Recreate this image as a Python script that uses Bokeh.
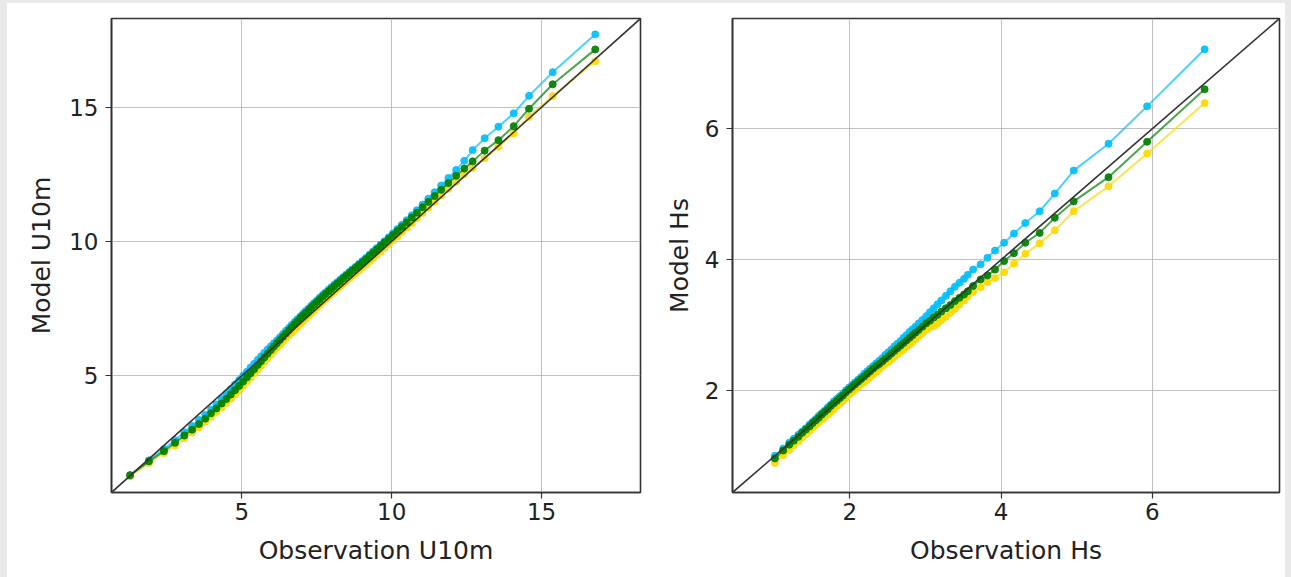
from bokeh.plotting import figure
from bokeh.layouts import row
from bokeh.models import Slope, Range1d, FixedTicker
from bokeh.embed import file_html
from bokeh.resources import INLINE

# ---- Left panel: U10m quantiles ----
u10_obs = [1.27, 1.90, 2.40, 2.77, 3.08, 3.34, 3.57, 3.78, 3.97, 4.15, 4.32, 4.48, 4.63, 4.77, 4.91,
           5.04, 5.17, 5.29, 5.41, 5.53, 5.64, 5.75, 5.86, 5.97, 6.07, 6.17, 6.27, 6.37, 6.47, 6.57,
           6.66, 6.76, 6.85, 6.95, 7.04, 7.13, 7.23, 7.32, 7.41, 7.51, 7.60, 7.70, 7.79, 7.89, 7.98,
           8.08, 8.18, 8.28, 8.38, 8.48, 8.59, 8.69, 8.80, 8.91, 9.02, 9.14, 9.26, 9.38, 9.50, 9.63,
           9.76, 9.90, 10.04, 10.19, 10.34, 10.50, 10.67, 10.84, 11.03, 11.22, 11.43, 11.65, 11.89,
           12.15, 12.42, 12.70, 13.10, 13.56, 14.07, 14.58, 15.37, 16.79]
u10_green = [1.29, 1.81, 2.19, 2.50, 2.77, 2.99, 3.20, 3.40, 3.60, 3.78, 3.96, 4.13, 4.30, 4.46, 4.62,
             4.78, 4.94, 5.09, 5.24, 5.40, 5.54, 5.68, 5.82, 5.96, 6.09, 6.21, 6.33, 6.45, 6.57, 6.69,
             6.80, 6.92, 7.02, 7.14, 7.24, 7.34, 7.45, 7.55, 7.65, 7.75, 7.85, 7.95, 8.04, 8.14, 8.23,
             8.33, 8.43, 8.52, 8.62, 8.72, 8.82, 8.92, 9.02, 9.12, 9.22, 9.34, 9.46, 9.58, 9.70, 9.83,
             9.96, 10.10, 10.24, 10.39, 10.55, 10.71, 10.89, 11.07, 11.27, 11.47, 11.69, 11.92, 12.17,
             12.44, 12.71, 12.98, 13.38, 13.77, 14.29, 14.94, 15.85, 17.15]
u10_cyan = [1.30, 1.85, 2.27, 2.60, 2.89, 3.13, 3.35, 3.54, 3.74, 3.93, 4.13, 4.32, 4.50, 4.67, 4.84,
            5.00, 5.15, 5.30, 5.44, 5.59, 5.72, 5.85, 5.98, 6.10, 6.21, 6.32, 6.43, 6.55, 6.67, 6.78,
            6.89, 7.00, 7.10, 7.21, 7.31, 7.41, 7.51, 7.61, 7.71, 7.81, 7.91, 8.01, 8.10, 8.20, 8.29,
            8.39, 8.48, 8.58, 8.67, 8.77, 8.87, 8.96, 9.06, 9.17, 9.27, 9.39, 9.51, 9.63, 9.75, 9.88,
            10.01, 10.15, 10.30, 10.46, 10.62, 10.79, 10.97, 11.16, 11.37, 11.59, 11.83, 12.08, 12.36,
            12.66, 13.00, 13.40, 13.84, 14.27, 14.77, 15.42, 16.30, 17.71]
u10_yellow = [1.25, 1.75, 2.12, 2.40, 2.67, 2.88, 3.08, 3.28, 3.47, 3.65, 3.82, 3.98, 4.14, 4.30, 4.46,
              4.62, 4.78, 4.93, 5.08, 5.23, 5.37, 5.51, 5.65, 5.79, 5.92, 6.04, 6.16, 6.28, 6.40, 6.51,
              6.61, 6.72, 6.82, 6.93, 7.03, 7.13, 7.24, 7.34, 7.44, 7.55, 7.64, 7.75, 7.84, 7.94, 8.03,
              8.13, 8.23, 8.33, 8.42, 8.52, 8.63, 8.72, 8.82, 8.92, 9.03, 9.14, 9.26, 9.38, 9.50, 9.63,
              9.76, 9.90, 10.04, 10.19, 10.35, 10.51, 10.68, 10.86, 11.06, 11.26, 11.48, 11.71, 11.96,
              12.23, 12.50, 12.74, 13.10, 13.52, 14.02, 14.64, 15.41, 16.71]
u10_range = [0.65, 18.3]
u10_ticks = [5, 10, 15]

# ---- Right panel: Hs quantiles ----
hs_obs = [1.01, 1.12, 1.20, 1.26, 1.32, 1.37, 1.42, 1.47, 1.51, 1.55, 1.59, 1.63, 1.67, 1.71, 1.75,
          1.79, 1.83, 1.87, 1.91, 1.95, 1.99, 2.03, 2.07, 2.11, 2.15, 2.19, 2.23, 2.27, 2.31, 2.35,
          2.39, 2.43, 2.47, 2.51, 2.55, 2.59, 2.63, 2.67, 2.71, 2.75, 2.79, 2.83, 2.87, 2.91, 2.96,
          3.01, 3.06, 3.11, 3.16, 3.21, 3.27, 3.33, 3.39, 3.45, 3.51, 3.56, 3.63, 3.73, 3.82, 3.92,
          4.04, 4.17, 4.32, 4.51, 4.71, 4.96, 5.42, 5.93, 6.69]
hs_green = [0.97, 1.09, 1.18, 1.24, 1.30, 1.36, 1.41, 1.46, 1.51, 1.55, 1.59, 1.64, 1.68, 1.72, 1.77,
            1.81, 1.85, 1.89, 1.93, 1.98, 2.02, 2.06, 2.10, 2.14, 2.18, 2.22, 2.26, 2.30, 2.34, 2.38,
            2.41, 2.45, 2.49, 2.53, 2.57, 2.61, 2.65, 2.69, 2.73, 2.77, 2.81, 2.85, 2.89, 2.93, 2.98,
            3.03, 3.07, 3.12, 3.16, 3.21, 3.26, 3.31, 3.37, 3.42, 3.47, 3.52, 3.60, 3.70, 3.76, 3.85,
            3.98, 4.10, 4.26, 4.41, 4.64, 4.89, 5.26, 5.80, 6.60]
hs_cyan = [1.01, 1.12, 1.21, 1.27, 1.33, 1.38, 1.43, 1.49, 1.53, 1.57, 1.62, 1.66, 1.70, 1.75, 1.79,
           1.84, 1.88, 1.92, 1.96, 2.01, 2.05, 2.09, 2.13, 2.17, 2.21, 2.26, 2.30, 2.34, 2.38, 2.42,
           2.46, 2.50, 2.55, 2.59, 2.63, 2.68, 2.72, 2.76, 2.81, 2.85, 2.90, 2.94, 2.98, 3.03, 3.08,
           3.14, 3.20, 3.26, 3.32, 3.38, 3.45, 3.52, 3.59, 3.65, 3.71, 3.77, 3.85, 3.93, 4.03, 4.14,
           4.26, 4.40, 4.56, 4.74, 5.01, 5.36, 5.77, 6.34, 7.21]
hs_yellow = [0.90, 1.02, 1.10, 1.17, 1.23, 1.29, 1.34, 1.39, 1.44, 1.48, 1.52, 1.56, 1.60, 1.64, 1.68,
             1.72, 1.77, 1.81, 1.85, 1.89, 1.94, 1.98, 2.02, 2.06, 2.10, 2.13, 2.17, 2.21, 2.25, 2.29,
             2.33, 2.37, 2.41, 2.44, 2.48, 2.52, 2.56, 2.60, 2.63, 2.67, 2.71, 2.75, 2.79, 2.83, 2.88,
             2.93, 2.97, 2.99, 3.03, 3.08, 3.13, 3.19, 3.25, 3.32, 3.38, 3.44, 3.51, 3.58, 3.66, 3.72,
             3.81, 3.94, 4.09, 4.25, 4.45, 4.74, 5.12, 5.62, 6.39]
hs_range = [0.45, 7.68]
hs_ticks = [2, 4, 6]

CYAN = "#00bfff"
GOLD = "#ffd700"
GREEN = "#008000"
FONT = "DejaVu Sans"


def make_panel(obs, cyan, yellow, green, rng, ticks, xlabel, ylabel, width, bl, br, margin, ystand):
    p = figure(width=width, height=574, output_backend="svg", toolbar_location=None,
               x_range=Range1d(rng[0], rng[1]), y_range=Range1d(rng[0], rng[1]),
               min_border_left=bl, min_border_right=br, min_border_top=15, min_border_bottom=85,
               background_fill_color="white", border_fill_color="white")
    p.margin = margin
    p.outline_line_color = "#333333"
    p.outline_line_width = 1.6
    p.outline_line_alpha = 1.0
    p.grid.grid_line_color = "#b0b0b0"
    p.grid.grid_line_width = 1
    p.grid.grid_line_alpha = 0.8
    for ax in (p.xaxis, p.yaxis):
        ax.ticker = FixedTicker(ticks=ticks)
        ax.minor_tick_line_color = None
        ax.major_tick_in = 0
        ax.major_tick_out = 6
        ax.major_tick_line_color = "#333333"
        ax.major_tick_line_width = 1.2
        ax.axis_line_color = "#333333"
        ax.axis_line_width = 1.6
        ax.major_label_text_font = FONT
        ax.major_label_text_font_size = "23px"
        ax.major_label_text_color = "#222222"
        ax.axis_label_text_font = FONT
        ax.axis_label_text_font_size = "25px"
        ax.axis_label_text_font_style = "normal"
        ax.axis_label_text_color = "#222222"
    p.xaxis.major_label_standoff = 4
    p.yaxis.major_label_standoff = 7
    p.xaxis.axis_label = xlabel
    p.yaxis.axis_label = ylabel
    p.xaxis.axis_label_standoff = 13
    p.yaxis.axis_label_standoff = ystand

    p.add_layout(Slope(gradient=1, y_intercept=0, line_color="#333333", line_width=1.6))

    for ys, col in ((cyan, CYAN), (yellow, GOLD), (green, GREEN)):
        p.line(obs, ys, line_color=col, line_width=2, line_alpha=0.7)
        p.scatter(obs, ys, marker="circle", size=7, fill_color=col, line_color=col,
                  fill_alpha=0.9, line_alpha=0.9)
    return p


p1 = make_panel(u10_obs, u10_cyan, u10_yellow, u10_green, u10_range, u10_ticks,
                "Observation U10m", "Model U10m", 641, 104, 8, (3, 0, 0, 7), 10)
p2 = make_panel(hs_obs, hs_cyan, hs_yellow, hs_green, hs_range, hs_ticks,
                "Observation Hs", "Model Hs", 637, 84, 6, (3, 6, 0, 0), 8)

layout = row(p1, p2, spacing=0,
             styles={"background-color": "white",
                     "box-shadow": "inset 7px 3px 0 0 #e9e9e9, inset -6px 0 0 0 #e9e9e9"})

open("out.html", "w").write(file_html(layout, INLINE))
